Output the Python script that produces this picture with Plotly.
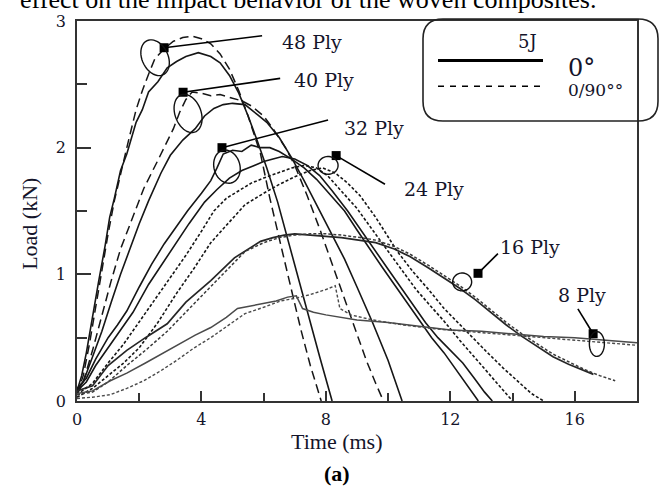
import numpy as np
import plotly.graph_objects as go

# ---------------- load-time histories (time in ms, load in kN) ----------------
t_48_uni = [0, 0.15, 0.3, 0.5, 0.7, 0.9, 1.05, 1.2, 1.4, 1.6, 1.9, 2.1, 2.3, 2.6, 2.9, 3.2, 3.5, 3.9,
            4.3, 4.6, 4.9, 5.2, 5.5, 5.8, 6.1, 6.45, 6.8, 7.1, 7.4, 7.8, 8.2]
L_48_uni = [0.08, 0.2, 0.38, 0.68, 0.95, 1.22, 1.45, 1.6, 1.82, 1.95, 2.2, 2.3, 2.44, 2.52, 2.63, 2.68, 2.72, 2.75,
            2.72, 2.67, 2.57, 2.43, 2.25, 2.05, 1.84, 1.57, 1.25, 0.98, 0.71, 0.35, 0.0]
t_48_cross = [0, 0.2, 0.4, 0.6, 0.8, 1.0, 1.2, 1.4, 1.65, 1.9, 2.1, 2.3, 2.5, 2.8, 3.1, 3.4, 3.7, 4.0,
              4.3, 4.6, 4.9, 5.2, 5.5, 5.9, 6.2, 6.6, 7.2, 7.5, 7.85]
L_48_cross = [0.05, 0.2, 0.45, 0.75, 1.05, 1.32, 1.58, 1.8, 2.05, 2.3, 2.45, 2.58, 2.7, 2.78, 2.84, 2.87, 2.88, 2.86,
              2.82, 2.74, 2.62, 2.45, 2.25, 1.95, 1.6, 1.18, 0.56, 0.28, 0.0]

t_40_uni = [0, 0.2, 0.5, 0.8, 1.1, 1.4, 1.7, 2.0, 2.3, 2.7, 3.0, 3.4, 3.8, 4.1, 4.4, 4.7, 5.0, 5.4,
            5.8, 6.1, 6.5, 6.9, 7.3, 7.7, 8.1, 8.6, 9.0, 9.5, 10.0, 10.45]
L_40_uni = [0.08, 0.15, 0.35, 0.55, 0.78, 1.0, 1.2, 1.4, 1.58, 1.8, 1.94, 2.06, 2.15, 2.25, 2.31, 2.34, 2.35, 2.34,
            2.26, 2.2, 2.08, 1.92, 1.74, 1.55, 1.36, 1.12, 0.9, 0.62, 0.32, 0.0]
t_40_cross = [0, 0.2, 0.5, 0.8, 1.1, 1.4, 1.8, 2.15, 2.6, 2.9, 3.1, 3.3, 3.5, 3.7, 4.0, 4.3, 4.6, 5.0,
              5.3, 5.6, 6.0, 6.3, 6.7, 7.0, 7.4, 7.8, 8.1, 8.5, 8.9, 9.3, 9.6, 9.85]
L_40_cross = [0.05, 0.15, 0.4, 0.68, 0.95, 1.2, 1.45, 1.68, 1.9, 2.05, 2.15, 2.28, 2.38, 2.44, 2.43, 2.41, 2.42, 2.39,
              2.37, 2.33, 2.25, 2.15, 2.0, 1.86, 1.62, 1.36, 1.15, 0.88, 0.6, 0.32, 0.14, 0.0]

t_32_uni = [0, 0.3, 0.6, 1.0, 1.3, 1.6, 2.0, 2.4, 2.8, 3.2, 3.55, 4.0, 4.3, 4.5, 4.7, 5.0, 5.3, 5.6,
            5.9, 6.2, 6.5, 6.9, 7.3, 7.7, 8.1, 8.6, 9.0, 9.4, 9.8, 10.2, 10.6, 11.0, 11.4, 11.8, 12.2, 12.6, 12.9]
L_32_uni = [0.1, 0.18, 0.33, 0.5, 0.6, 0.71, 0.9, 1.08, 1.24, 1.38, 1.5, 1.64, 1.74, 1.84, 1.95, 1.98, 1.97, 2.02,
            2.0, 2.0, 1.97, 1.91, 1.84, 1.75, 1.64, 1.5, 1.35, 1.2, 1.06, 0.92, 0.78, 0.63, 0.5, 0.38, 0.24, 0.1, 0.0]
t_32_cross = [0, 0.5, 1.0, 1.5, 1.93, 2.5, 3.0, 3.5, 4.0, 4.4, 4.8, 5.2, 5.6, 6.0, 6.45, 6.9, 7.3, 7.7,
              8.05, 8.5, 9.0, 9.5, 10.0, 10.5, 10.9, 11.4, 11.8, 12.3, 12.8, 13.3, 13.7, 14.0]
L_32_cross = [0.05, 0.14, 0.3, 0.45, 0.6, 0.8, 0.98, 1.15, 1.34, 1.5, 1.6, 1.66, 1.72, 1.76, 1.8, 1.84, 1.86, 1.84,
              1.78, 1.66, 1.52, 1.35, 1.18, 1.02, 0.88, 0.74, 0.63, 0.48, 0.34, 0.2, 0.09, 0.0]

t_24_uni = [0, 0.3, 0.6, 1.0, 1.4, 1.8, 2.3, 2.7, 3.1, 3.6, 4.1, 4.5, 4.9, 5.3, 5.7, 6.0, 6.3, 6.6,
            7.0, 7.4, 7.8, 8.2, 8.7, 9.2, 9.6, 10.0, 10.4, 10.8, 11.2, 11.6, 12.0, 12.4, 12.8, 13.1, 13.35]
L_24_uni = [0.08, 0.15, 0.28, 0.42, 0.55, 0.7, 0.92, 1.07, 1.21, 1.4, 1.57, 1.67, 1.76, 1.82, 1.86, 1.89, 1.91, 1.93,
            1.91, 1.86, 1.78, 1.66, 1.5, 1.32, 1.18, 1.04, 0.9, 0.76, 0.62, 0.5, 0.4, 0.3, 0.17, 0.07, 0.0]
t_24_cross = [0, 0.5, 1.0, 1.5, 2.0, 2.6, 3.2, 3.77, 4.3, 4.84, 5.4, 6.0, 6.5, 7.0, 7.5, 7.9, 8.3, 8.7,
              9.1, 9.6, 10.0, 10.3, 10.8, 11.3, 11.8, 12.2, 12.7, 13.2, 13.7, 14.2, 14.6, 15.0]
L_24_cross = [0.03, 0.1, 0.2, 0.3, 0.42, 0.62, 0.85, 1.05, 1.25, 1.4, 1.55, 1.64, 1.71, 1.77, 1.82, 1.84, 1.8, 1.72,
              1.62, 1.45, 1.3, 1.18, 1.02, 0.88, 0.73, 0.63, 0.5, 0.38, 0.26, 0.15, 0.06, 0.0]

t_16_uni = [0, 0.5, 1.0, 1.6, 2.2, 2.9, 3.5, 4.3, 5.06, 5.5, 5.9, 6.3, 6.66, 7.0, 7.4, 8.0, 8.5, 9.1,
            9.6, 10.2, 10.7, 11.3, 11.8, 12.3, 12.8, 13.3, 13.8, 14.3, 14.8, 15.3, 15.8, 16.3, 16.6]
L_16_uni = [0.08, 0.12, 0.28, 0.4, 0.5, 0.61, 0.78, 0.95, 1.13, 1.2, 1.26, 1.29, 1.31, 1.32, 1.31, 1.3, 1.29, 1.27,
            1.25, 1.2, 1.14, 1.05, 0.97, 0.89, 0.8, 0.7, 0.6, 0.51, 0.43, 0.35, 0.29, 0.24, 0.21]
t_16_cross = [0, 0.5, 1.0, 1.6, 2.2, 2.9, 3.77, 4.5, 5.4, 6.0, 6.5, 7.0, 7.5, 8.0, 8.5, 9.1, 9.6, 10.2,
              10.7, 11.3, 11.8, 12.3, 12.8, 13.3, 13.8, 14.3, 14.8, 15.3, 15.8, 16.3, 16.8, 17.3]
L_16_cross = [0.05, 0.07, 0.15, 0.28, 0.4, 0.55, 0.77, 0.95, 1.18, 1.25, 1.29, 1.31, 1.32, 1.32, 1.31, 1.29, 1.27, 1.22,
              1.16, 1.07, 0.99, 0.91, 0.82, 0.72, 0.62, 0.53, 0.45, 0.37, 0.31, 0.25, 0.2, 0.16]

t_8_uni = [0, 0.5, 1.07, 1.6, 2.2, 2.7, 3.2, 3.8, 4.3, 4.8, 5.16, 5.6, 6.0, 6.4, 6.77, 7.05, 7.25, 7.6,
           8.0, 8.5, 9.0, 10.0, 11.0, 12.0, 13.0, 14.0, 15.0, 16.0, 17.0, 18.0]
L_8_uni = [0.06, 0.08, 0.16, 0.22, 0.3, 0.37, 0.44, 0.52, 0.58, 0.66, 0.73, 0.75, 0.77, 0.79, 0.82, 0.83, 0.73, 0.7,
           0.68, 0.66, 0.64, 0.62, 0.59, 0.56, 0.55, 0.53, 0.51, 0.5, 0.48, 0.46]
t_8_cross = [0, 0.5, 1.07, 1.6, 2.15, 2.7, 3.2, 3.77, 4.3, 4.9, 5.4, 6.0, 6.55, 7.0, 7.5, 8.0, 8.3, 8.45,
             8.8, 9.5, 10.5, 11.5, 12.5, 13.5, 14.5, 15.5, 16.5, 17.5, 18.0]
L_8_cross = [0.02, 0.03, 0.05, 0.1, 0.16, 0.24, 0.32, 0.42, 0.5, 0.6, 0.69, 0.74, 0.79, 0.81, 0.84, 0.88, 0.91, 0.73,
             0.68, 0.64, 0.6, 0.57, 0.55, 0.53, 0.51, 0.49, 0.47, 0.45, 0.44]

# axis ticks
x_ticks = [0, 4, 8, 12, 16]
y_ticks = [0, 1, 2, 3]

# ply call-outs: label text, label anchor, pointer end (square marker)
ply_labels = ["48 Ply", "40 Ply", "32 Ply", "24 Ply", "16 Ply", "8 Ply"]
label_t = [6.53, 6.91, 8.52, 10.45, 13.53, 15.40]
label_L = [2.836, 2.531, 2.156, 1.672, 1.219, 0.836]
lead_t0 = [5.95, 6.53, 8.07, 9.90, 13.53, 16.10]
lead_L0 = [2.883, 2.547, 2.219, 1.711, 1.164, 0.727]
lead_t1 = [2.80, 3.41, 4.66, 8.33, 12.89, 16.59]
lead_L1 = [2.789, 2.4375, 2.0, 1.9375, 1.008, 0.531]
# ring around the peak region: centre (data), semi-axes (px), tilt (deg)
ring_t = [2.51, 3.57, 4.82, 8.07, 12.38, 16.71]
ring_L = [2.71, 2.27, 1.85, 1.86, 0.94, 0.45]
ring_a = [13, 13, 13, 10, 9.5, 7.5]
ring_b = [19, 20, 17, 9, 9, 12.5]
ring_rot = [-25, -20, -15, 0, 0, 0]

# ---------------- geometry helpers ----------------
W, H = 661, 486
ML, MR, MT, MB = 77, 24, 17, 85
PW, PH = W - ML - MR, H - MT - MB
X_MAX, Y_MAX = 18, 3
PX_PER_MS = PW / X_MAX
PX_PER_KN = PH / Y_MAX


def px_to_paper(x, y):
    return (x - ML) / PW, (H - MB - y) / PH


def ellipse_path(tc, Lc, a, b, rot_deg, n=48):
    th = np.linspace(0, 2 * np.pi, n)
    r = np.deg2rad(rot_deg)
    ex, ey = a * np.cos(th), b * np.sin(th)
    xr = ex * np.cos(r) - ey * np.sin(r)
    yr = ex * np.sin(r) + ey * np.cos(r)
    ts = tc + xr / PX_PER_MS
    Ls = Lc - yr / PX_PER_KN
    pts = [f"{t:.4f},{L:.4f}" for t, L in zip(ts, Ls)]
    return "M " + " L ".join(pts) + " Z"


def rounded_box(x0, y0, x1, y1, r):
    corners = [
        ("M", [(x0 + r, y0)]), ("L", [(x1 - r, y0)]), ("Q", [(x1, y0), (x1, y0 + r)]),
        ("L", [(x1, y1 - r)]), ("Q", [(x1, y1), (x1 - r, y1)]), ("L", [(x0 + r, y1)]),
        ("Q", [(x0, y1), (x0, y1 - r)]), ("L", [(x0, y0 + r)]), ("Q", [(x0, y0), (x0 + r, y0)]),
    ]
    parts = []
    for cmd, pts in corners:
        conv = [px_to_paper(px, py) for px, py in pts]
        parts.append(cmd + " " + " ".join(f"{u:.5f},{v:.5f}" for u, v in conv))
    return " ".join(parts) + " Z"


INK = "#161616"
GREY = "#4a4a4a"
SERIF = "Liberation Serif"
WIDE_SERIF = "DejaVu Serif"

fig = go.Figure()

curves = [
    (t_48_uni, L_48_uni, "solid", INK, 1.6),
    (t_48_cross, L_48_cross, "9px,5px", INK, 1.5),
    (t_40_uni, L_40_uni, "solid", INK, 1.6),
    (t_40_cross, L_40_cross, "9px,5px", INK, 1.5),
    (t_32_uni, L_32_uni, "solid", INK, 1.6),
    (t_32_cross, L_32_cross, "3px,2px", INK, 1.6),
    (t_24_uni, L_24_uni, "solid", INK, 1.6),
    (t_24_cross, L_24_cross, "3px,2px", INK, 1.6),
    (t_16_uni, L_16_uni, "solid", "#262626", 1.7),
    (t_16_cross, L_16_cross, "3px,2px", "#3a3a3a", 1.5),
    (t_8_uni, L_8_uni, "solid", GREY, 1.5),
    (t_8_cross, L_8_cross, "3px,2px", GREY, 1.4),
]
for t, L, dash, col, w in curves:
    fig.add_trace(go.Scatter(x=t, y=L, mode="lines", showlegend=False, hoverinfo="skip",
                             line=dict(color=col, width=w, dash=dash)))

# call-out leads and rings
for i in range(len(ply_labels)):
    fig.add_shape(type="line", xref="x", yref="y", x0=lead_t0[i], y0=lead_L0[i],
                  x1=lead_t1[i], y1=lead_L1[i], line=dict(color="#000", width=1.6))
    fig.add_shape(type="path", xref="x", yref="y",
                  path=ellipse_path(ring_t[i], ring_L[i], ring_a[i], ring_b[i], ring_rot[i]),
                  line=dict(color="#111", width=1.4))
    fig.add_annotation(x=label_t[i], y=label_L[i], xref="x", yref="y", text=ply_labels[i],
                       showarrow=False, xanchor="left", yanchor="middle",
                       font=dict(family=WIDE_SERIF, size=19, color="#14142a"))

fig.add_trace(go.Scatter(x=lead_t1, y=lead_L1, mode="markers", showlegend=False, hoverinfo="skip",
                         marker=dict(symbol="square", size=9, color="#000")))

# key box
fig.add_shape(type="path", xref="paper", yref="paper", path=rounded_box(423, 15, 658, 118, 20),
              line=dict(color="#222", width=1.6))
sx0, sy = px_to_paper(438, 57)
sx1, _ = px_to_paper(543, 57)
fig.add_shape(type="line", xref="paper", yref="paper", x0=sx0, x1=sx1, y0=sy, y1=sy,
              line=dict(color="#000", width=3))
_, dy = px_to_paper(438, 83)
fig.add_shape(type="line", xref="paper", yref="paper", x0=sx0, x1=sx1, y0=dy, y1=dy,
              line=dict(color="#000", width=1.5, dash="6px,6px"))

kx, ky = px_to_paper(527, 38)
fig.add_annotation(x=kx, y=ky, xref="paper", yref="paper", text="5J", showarrow=False,
                   xanchor="center", yanchor="middle", font=dict(family=WIDE_SERIF, size=18, color="#14142a"))
kx, ky = px_to_paper(566, 64)
fig.add_annotation(x=kx, y=ky, xref="paper", yref="paper", text="0°", showarrow=False,
                   xanchor="left", yanchor="middle", font=dict(family=WIDE_SERIF, size=24, color="#14142a"))
kx, ky = px_to_paper(566, 87)
fig.add_annotation(x=kx, y=ky, xref="paper", yref="paper", text="0/90°°", showarrow=False,
                   xanchor="left", yanchor="middle", font=dict(family=WIDE_SERIF, size=17, color="#14142a"))

# axis titles and caption
ax, ay = px_to_paper(30, 222)
fig.add_annotation(x=ax, y=ay, xref="paper", yref="paper", text="Load (kN)", textangle=-90,
                   showarrow=False, xanchor="center", yanchor="middle",
                   font=dict(family=SERIF, size=22, color="#14142a"))
ax, ay = px_to_paper(336, 442)
fig.add_annotation(x=ax, y=ay, xref="paper", yref="paper", text="Time (ms)", showarrow=False,
                   xanchor="center", yanchor="middle", font=dict(family=SERIF, size=22, color="#14142a"))
ax, ay = px_to_paper(337, 474)
fig.add_annotation(x=ax, y=ay, xref="paper", yref="paper", text="<b>(a)</b>", showarrow=False,
                   xanchor="center", yanchor="middle", font=dict(family=SERIF, size=22, color="#000"))
ax, ay = px_to_paper(308, -5)
fig.add_annotation(x=ax, y=ay, xref="paper", yref="paper",
                   text="effect on the impact behavior of the woven composites.", showarrow=False,
                   xanchor="center", yanchor="middle", font=dict(family=SERIF, size=26, color="#000"))

axis_common = dict(showgrid=False, zeroline=False, showline=True, linecolor="#333", linewidth=1.8,
                   mirror=True, ticks="inside", tickcolor="#333", tickwidth=1.6,
                   tickfont=dict(family=WIDE_SERIF, size=16, color="#14142a"))
fig.update_xaxes(range=[0, X_MAX], tickvals=x_ticks, ticktext=[str(v) for v in x_ticks], ticklen=10,
                 ticklabelstandoff=3,
                 minor=dict(dtick=2, ticklen=8, ticks="inside", tickcolor="#333", tickwidth=1.6),
                 **axis_common)
fig.update_yaxes(range=[0, Y_MAX], tickvals=y_ticks, ticktext=[str(v) for v in y_ticks], ticklen=14,
                 ticklabelstandoff=6,
                 minor=dict(dtick=0.5, ticklen=10, ticks="inside", tickcolor="#333", tickwidth=1.6),
                 **axis_common)

fig.update_layout(width=W, height=H, margin=dict(l=ML, r=MR, t=MT, b=MB),
                  paper_bgcolor="white", plot_bgcolor="white", showlegend=False)

fig.write_html("out.html")
